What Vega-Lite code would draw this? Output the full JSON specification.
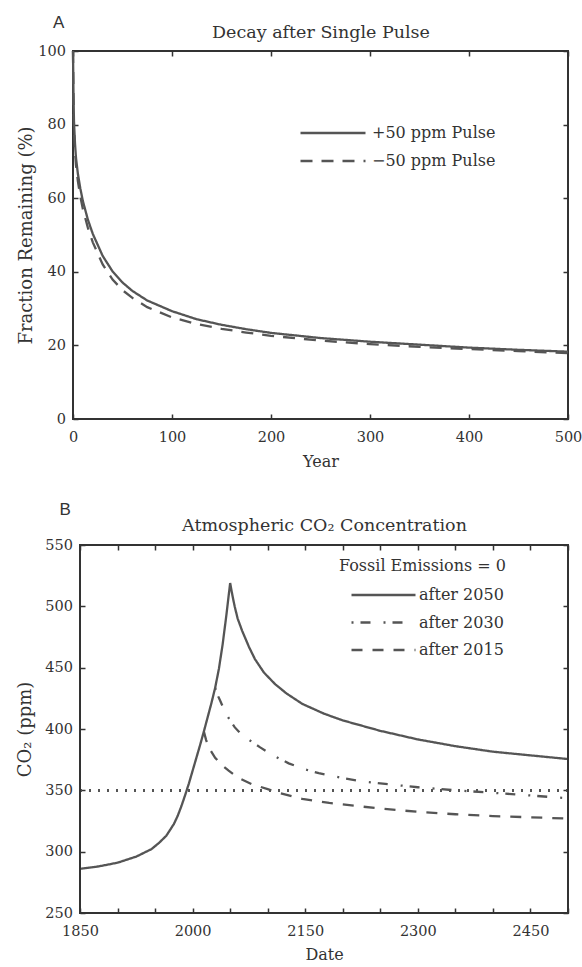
{
  "$schema": "https://vega.github.io/schema/vega-lite/v6.json",
  "background": "white",
  "padding": {"left": 15, "top": 13, "right": 10, "bottom": 5},
  "spacing": 30,
  "align": "none",
  "resolve": {"scale": {"strokeDash": "independent"}, "legend": {"strokeDash": "independent"}},
  "config": {
    "font": "DejaVu Serif",
    "view": {"stroke": "#333", "strokeWidth": 2},
    "axis": {
      "domain": false, "grid": false, "tickSize": -5, "tickColor": "#333", "tickWidth": 1.5,
      "labelFont": "DejaVu Serif", "labelFontSize": 14.5, "labelColor": "#333",
      "titleFont": "DejaVu Serif", "titleFontWeight": "normal", "titleColor": "#333", "titleFontSize": 16
    },
    "axisX": {"labelPadding": 16, "labelAlign": "center"},
    "axisY": {"labelPadding": 12.5, "labelBaseline": "middle"},
    "legend": {
      "labelFont": "DejaVu Serif", "labelFontSize": 16, "labelColor": "#333", "labelLimit": 300,
      "titleFont": "DejaVu Serif", "titleFontSize": 16, "titleFontWeight": "normal", "titleColor": "#333",
      "symbolType": "stroke", "symbolStrokeWidth": 2.5, "symbolStrokeColor": "#555", "clipHeight": 16
    },
    "title": {"font": "Liberation Sans", "fontSize": 17, "fontWeight": "normal", "color": "#333", "anchor": "start", "frame": "group", "offset": 0}
  },
  "datasets": {
    "pulse": [
      {"year": 0, "pct": 100, "pulse": "+50 ppm Pulse"},
      {"year": 0.5, "pct": 88, "pulse": "+50 ppm Pulse"},
      {"year": 1, "pct": 80.7, "pulse": "+50 ppm Pulse"},
      {"year": 2, "pct": 75, "pulse": "+50 ppm Pulse"},
      {"year": 3, "pct": 71, "pulse": "+50 ppm Pulse"},
      {"year": 5, "pct": 66.5, "pulse": "+50 ppm Pulse"},
      {"year": 7.5, "pct": 62.5, "pulse": "+50 ppm Pulse"},
      {"year": 10, "pct": 59.2, "pulse": "+50 ppm Pulse"},
      {"year": 15, "pct": 54.2, "pulse": "+50 ppm Pulse"},
      {"year": 20, "pct": 50.3, "pulse": "+50 ppm Pulse"},
      {"year": 30, "pct": 44.3, "pulse": "+50 ppm Pulse"},
      {"year": 40, "pct": 40.1, "pulse": "+50 ppm Pulse"},
      {"year": 50, "pct": 37.1, "pulse": "+50 ppm Pulse"},
      {"year": 60, "pct": 34.8, "pulse": "+50 ppm Pulse"},
      {"year": 75, "pct": 32.2, "pulse": "+50 ppm Pulse"},
      {"year": 100, "pct": 29.3, "pulse": "+50 ppm Pulse"},
      {"year": 125, "pct": 27.1, "pulse": "+50 ppm Pulse"},
      {"year": 150, "pct": 25.6, "pulse": "+50 ppm Pulse"},
      {"year": 175, "pct": 24.4, "pulse": "+50 ppm Pulse"},
      {"year": 200, "pct": 23.4, "pulse": "+50 ppm Pulse"},
      {"year": 250, "pct": 22.0, "pulse": "+50 ppm Pulse"},
      {"year": 300, "pct": 21.0, "pulse": "+50 ppm Pulse"},
      {"year": 350, "pct": 20.2, "pulse": "+50 ppm Pulse"},
      {"year": 400, "pct": 19.4, "pulse": "+50 ppm Pulse"},
      {"year": 450, "pct": 18.8, "pulse": "+50 ppm Pulse"},
      {"year": 500, "pct": 18.3, "pulse": "+50 ppm Pulse"},
      {"year": 0, "pct": 100, "pulse": "−50 ppm Pulse"},
      {"year": 0.5, "pct": 87, "pulse": "−50 ppm Pulse"},
      {"year": 1, "pct": 79, "pulse": "−50 ppm Pulse"},
      {"year": 2, "pct": 73, "pulse": "−50 ppm Pulse"},
      {"year": 3, "pct": 69, "pulse": "−50 ppm Pulse"},
      {"year": 5, "pct": 64.5, "pulse": "−50 ppm Pulse"},
      {"year": 7.5, "pct": 60.3, "pulse": "−50 ppm Pulse"},
      {"year": 10, "pct": 57, "pulse": "−50 ppm Pulse"},
      {"year": 15, "pct": 52, "pulse": "−50 ppm Pulse"},
      {"year": 20, "pct": 48, "pulse": "−50 ppm Pulse"},
      {"year": 30, "pct": 42, "pulse": "−50 ppm Pulse"},
      {"year": 40, "pct": 37.9, "pulse": "−50 ppm Pulse"},
      {"year": 50, "pct": 35, "pulse": "−50 ppm Pulse"},
      {"year": 60, "pct": 32.9, "pulse": "−50 ppm Pulse"},
      {"year": 75, "pct": 30.4, "pulse": "−50 ppm Pulse"},
      {"year": 100, "pct": 27.6, "pulse": "−50 ppm Pulse"},
      {"year": 125, "pct": 25.8, "pulse": "−50 ppm Pulse"},
      {"year": 150, "pct": 24.5, "pulse": "−50 ppm Pulse"},
      {"year": 175, "pct": 23.5, "pulse": "−50 ppm Pulse"},
      {"year": 200, "pct": 22.6, "pulse": "−50 ppm Pulse"},
      {"year": 250, "pct": 21.3, "pulse": "−50 ppm Pulse"},
      {"year": 300, "pct": 20.35, "pulse": "−50 ppm Pulse"},
      {"year": 350, "pct": 19.6, "pulse": "−50 ppm Pulse"},
      {"year": 400, "pct": 19.0, "pulse": "−50 ppm Pulse"},
      {"year": 450, "pct": 18.45, "pulse": "−50 ppm Pulse"},
      {"year": 500, "pct": 17.9, "pulse": "−50 ppm Pulse"}
    ],
    "co2": [
      {"date": 1850, "ppm": 286, "scenario": "after 2050"},
      {"date": 1875, "ppm": 288, "scenario": "after 2050"},
      {"date": 1900, "ppm": 291, "scenario": "after 2050"},
      {"date": 1925, "ppm": 296, "scenario": "after 2050"},
      {"date": 1945, "ppm": 302, "scenario": "after 2050"},
      {"date": 1955, "ppm": 307, "scenario": "after 2050"},
      {"date": 1965, "ppm": 313, "scenario": "after 2050"},
      {"date": 1975, "ppm": 322.5, "scenario": "after 2050"},
      {"date": 1980, "ppm": 329, "scenario": "after 2050"},
      {"date": 1985, "ppm": 337, "scenario": "after 2050"},
      {"date": 1990, "ppm": 346, "scenario": "after 2050"},
      {"date": 1995, "ppm": 355.5, "scenario": "after 2050"},
      {"date": 2000, "ppm": 366, "scenario": "after 2050"},
      {"date": 2005, "ppm": 376.5, "scenario": "after 2050"},
      {"date": 2010, "ppm": 387, "scenario": "after 2050"},
      {"date": 2015, "ppm": 398, "scenario": "after 2050"},
      {"date": 2020, "ppm": 409.5, "scenario": "after 2050"},
      {"date": 2025, "ppm": 421, "scenario": "after 2050"},
      {"date": 2030, "ppm": 433.5, "scenario": "after 2050"},
      {"date": 2035, "ppm": 449, "scenario": "after 2050"},
      {"date": 2040, "ppm": 469, "scenario": "after 2050"},
      {"date": 2045, "ppm": 493, "scenario": "after 2050"},
      {"date": 2050, "ppm": 519, "scenario": "after 2050"},
      {"date": 2053, "ppm": 509, "scenario": "after 2050"},
      {"date": 2056, "ppm": 500, "scenario": "after 2050"},
      {"date": 2060, "ppm": 490, "scenario": "after 2050"},
      {"date": 2066, "ppm": 480, "scenario": "after 2050"},
      {"date": 2075, "ppm": 467, "scenario": "after 2050"},
      {"date": 2083, "ppm": 457, "scenario": "after 2050"},
      {"date": 2095, "ppm": 446, "scenario": "after 2050"},
      {"date": 2110, "ppm": 436.5, "scenario": "after 2050"},
      {"date": 2125, "ppm": 429, "scenario": "after 2050"},
      {"date": 2146, "ppm": 420.5, "scenario": "after 2050"},
      {"date": 2175, "ppm": 412.5, "scenario": "after 2050"},
      {"date": 2200, "ppm": 407, "scenario": "after 2050"},
      {"date": 2250, "ppm": 398.5, "scenario": "after 2050"},
      {"date": 2300, "ppm": 391.5, "scenario": "after 2050"},
      {"date": 2350, "ppm": 386, "scenario": "after 2050"},
      {"date": 2400, "ppm": 381.5, "scenario": "after 2050"},
      {"date": 2450, "ppm": 378.5, "scenario": "after 2050"},
      {"date": 2500, "ppm": 375.5, "scenario": "after 2050"},
      {"date": 2030, "ppm": 433.5, "scenario": "after 2030"},
      {"date": 2033, "ppm": 428, "scenario": "after 2030"},
      {"date": 2036, "ppm": 424, "scenario": "after 2030"},
      {"date": 2040, "ppm": 418.5, "scenario": "after 2030"},
      {"date": 2045, "ppm": 412, "scenario": "after 2030"},
      {"date": 2050, "ppm": 407, "scenario": "after 2030"},
      {"date": 2056, "ppm": 401.5, "scenario": "after 2030"},
      {"date": 2065, "ppm": 395.5, "scenario": "after 2030"},
      {"date": 2079, "ppm": 389.5, "scenario": "after 2030"},
      {"date": 2090, "ppm": 385, "scenario": "after 2030"},
      {"date": 2102, "ppm": 380.5, "scenario": "after 2030"},
      {"date": 2115, "ppm": 376, "scenario": "after 2030"},
      {"date": 2128, "ppm": 372, "scenario": "after 2030"},
      {"date": 2150, "ppm": 367, "scenario": "after 2030"},
      {"date": 2168, "ppm": 364, "scenario": "after 2030"},
      {"date": 2200, "ppm": 360, "scenario": "after 2030"},
      {"date": 2222, "ppm": 357.6, "scenario": "after 2030"},
      {"date": 2250, "ppm": 355.6, "scenario": "after 2030"},
      {"date": 2300, "ppm": 352.5, "scenario": "after 2030"},
      {"date": 2350, "ppm": 350, "scenario": "after 2030"},
      {"date": 2400, "ppm": 348, "scenario": "after 2030"},
      {"date": 2450, "ppm": 345.8, "scenario": "after 2030"},
      {"date": 2500, "ppm": 343.5, "scenario": "after 2030"},
      {"date": 2015, "ppm": 398, "scenario": "after 2015"},
      {"date": 2018, "ppm": 391, "scenario": "after 2015"},
      {"date": 2022, "ppm": 384.5, "scenario": "after 2015"},
      {"date": 2030, "ppm": 376.5, "scenario": "after 2015"},
      {"date": 2040, "ppm": 370, "scenario": "after 2015"},
      {"date": 2048, "ppm": 366, "scenario": "after 2015"},
      {"date": 2060, "ppm": 360.5, "scenario": "after 2015"},
      {"date": 2079, "ppm": 355, "scenario": "after 2015"},
      {"date": 2100, "ppm": 351, "scenario": "after 2015"},
      {"date": 2115, "ppm": 348, "scenario": "after 2015"},
      {"date": 2146, "ppm": 343, "scenario": "after 2015"},
      {"date": 2182, "ppm": 339.7, "scenario": "after 2015"},
      {"date": 2252, "ppm": 335, "scenario": "after 2015"},
      {"date": 2300, "ppm": 332.5, "scenario": "after 2015"},
      {"date": 2350, "ppm": 330.5, "scenario": "after 2015"},
      {"date": 2400, "ppm": 329, "scenario": "after 2015"},
      {"date": 2450, "ppm": 328, "scenario": "after 2015"},
      {"date": 2500, "ppm": 327, "scenario": "after 2015"}
    ]
  },
  "vconcat": [
    {
      "width": 495,
      "height": 368,
      "title": {"text": "A", "dx": -20, "offset": -9},
      "data": {"name": "pulse"},
      "layer": [
        {
          "mark": {"type": "line", "stroke": "#555", "strokeWidth": 2.3},
          "encoding": {
            "x": {"field": "year", "type": "quantitative", "scale": {"domain": [0, 500], "nice": false},
              "axis": {"orient": "bottom", "values": [0, 100, 200, 300, 400, 500], "title": "Year", "titleY": 42, "titleBaseline": "middle"}},
            "y": {"field": "pct", "type": "quantitative", "scale": {"domain": [0, 100], "nice": false},
              "axis": {"orient": "left", "values": [0, 20, 40, 60, 80, 100], "title": "Fraction Remaining (%)", "titleFontSize": 18, "titleX": -47, "titleBaseline": "middle"}},
            "strokeDash": {"field": "pulse", "type": "nominal",
              "scale": {"domain": ["+50 ppm Pulse", "−50 ppm Pulse"], "range": [[1, 0], [12, 9]]},
              "legend": {"orient": "none", "title": null, "legendX": 226, "legendY": 74, "symbolSize": 4225, "labelOffset": 5, "rowPadding": 12}}
          }
        },
        {
          "mark": {"type": "line", "opacity": 0},
          "encoding": {
            "x": {"field": "year", "type": "quantitative",
              "axis": {"orient": "top", "labels": false, "values": [0, 100, 200, 300, 400, 500], "title": "Decay after Single Pulse", "titleFontSize": 17.5, "titleY": -19, "titleBaseline": "middle"}},
            "y": {"field": "pct", "type": "quantitative",
              "axis": {"orient": "right", "labels": false, "values": [0, 20, 40, 60, 80, 100], "title": null}}
          }
        }
      ],
      "resolve": {"axis": {"x": "independent", "y": "independent"}}
    },
    {
      "width": 495,
      "height": 368,
      "view": {"stroke": "transparent"},
      "title": {"text": "B", "dx": -13.5, "offset": -3},
      "data": {"name": "co2"},
      "layer": [
        {
          "mark": {"type": "line", "stroke": "#555", "strokeWidth": 2.3},
          "encoding": {
            "x": {"field": "date", "type": "quantitative", "scale": {"domain": [1850, 2500], "nice": false, "range": [7, 495]},
              "axis": {"orient": "bottom", "values": [1850, 1900, 1950, 2000, 2050, 2100, 2150, 2200, 2250, 2300, 2350, 2400, 2450, 2500],
                "labelExpr": "(datum.value - 1850) % 150 == 0 ? datum.label : ''", "format": "d", "title": "Date", "titleY": 41, "titleBaseline": "middle"}},
            "y": {"field": "ppm", "type": "quantitative", "scale": {"domain": [250, 550], "nice": false},
              "axis": {"orient": "left", "offset": -7, "values": [250, 300, 350, 400, 450, 500, 550], "title": "CO₂ (ppm)", "titleFontSize": 18, "titleX": -55, "titleBaseline": "middle"}},
            "strokeDash": {"field": "scenario", "type": "nominal",
              "scale": {"domain": ["after 2050", "after 2030", "after 2015"], "range": [[1, 0], [2, 7, 10, 13], [11, 10]]},
              "legend": {"orient": "none", "title": "Fossil Emissions = 0", "legendX": 266, "legendY": 13, "symbolSize": 4096, "symbolOffset": 11, "labelOffset": 2, "rowPadding": 11.5, "titlePadding": 13}}
          }
        },
        {
          "mark": {"type": "line", "opacity": 0},
          "encoding": {
            "x": {"field": "date", "type": "quantitative",
              "axis": {"orient": "top", "labels": false, "values": [1850, 1900, 1950, 2000, 2050, 2100, 2150, 2200, 2250, 2300, 2350, 2400, 2450, 2500], "title": "Atmospheric CO₂ Concentration", "titleFontSize": 17.5, "titleY": -20, "titleBaseline": "middle"}},
            "y": {"field": "ppm", "type": "quantitative",
              "axis": {"orient": "right", "labels": false, "values": [250, 300, 350, 400, 450, 500, 550], "title": null}}
          }
        },
        {
          "mark": {"type": "rule", "stroke": "#555", "strokeWidth": 1.6, "strokeDash": [2, 7]},
          "encoding": {
            "y": {"datum": 350, "type": "quantitative", "axis": null},
            "x": {"datum": 1850, "type": "quantitative", "axis": null},
            "x2": {"datum": 2500}
          }
        },
        {
          "data": {"values": [{"frame": 1}]},
          "mark": {"type": "rect", "fill": "transparent", "stroke": "#333", "strokeWidth": 2},
          "encoding": {
            "x": {"datum": 1850, "type": "quantitative", "axis": null},
            "x2": {"datum": 2500},
            "y": {"datum": 250, "type": "quantitative", "axis": null},
            "y2": {"datum": 550}
          }
        }
      ],
      "resolve": {"axis": {"x": "independent", "y": "independent"}}
    }
  ]
}
